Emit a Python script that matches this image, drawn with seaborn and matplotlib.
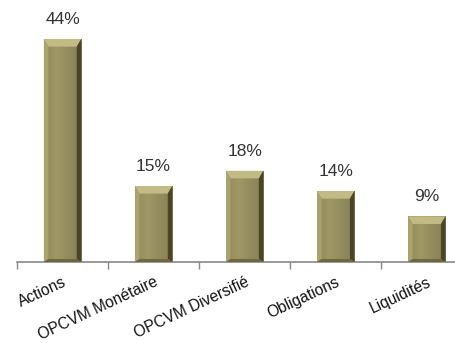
import numpy as np
import pandas as pd
import matplotlib
matplotlib.use("Agg")
import matplotlib.pyplot as plt
from matplotlib.patches import Polygon
import seaborn as sns

sns.set_style("white")
plt.rcParams['font.family'] = ['Liberation Sans Narrow', 'Liberation Sans', 'DejaVu Sans']

categories = ['Actions', 'OPCVM Monétaire', 'OPCVM Diversifié', 'Obligations', 'Liquidités']
values = [44, 15, 18, 14, 9]
labels = ['44%', '15%', '18%', '14%', '9%']

df = pd.DataFrame({'cat': categories, 'val': values})

fig = plt.figure(figsize=(4.55, 3.43), dpi=100)
ax = fig.add_axes([17 / 455, 81 / 343, 1 - 17 / 455, 262 / 343])

sns.barplot(data=df, x='cat', y='val', color='#9a9262', width=0.41,
            saturation=1, ax=ax, edgecolor='#ecebd8', linewidth=0.6)

# shaded bevel on each bar, built from the bar patches
n = 64
t = np.linspace(0, 1, n)
shade = 1.02 - 0.25 * np.abs(t - 0.35)
img = np.zeros((1, n, 3))
base = np.array([0x9c, 0x94, 0x63]) / 255
for i in range(n):
    img[0, i] = np.clip(base * shade[i], 0, 1)
for p in ax.patches:
    x0, y0 = p.get_x(), p.get_y()
    w, h = p.get_width(), p.get_height()
    im = ax.imshow(img, extent=[x0, x0 + w, y0, y0 + h], aspect='auto', zorder=2)
    im.set_clip_path(p)
    bx = w * 0.12
    by = 1.5
    top = Polygon([[x0, y0 + h], [x0 + w, y0 + h], [x0 + w - bx, y0 + h - by], [x0 + bx, y0 + h - by]],
                  closed=True, facecolor='#c2bb85', edgecolor='none', zorder=3)
    ax.add_patch(top)
    left = Polygon([[x0, y0 + h], [x0 + bx, y0 + h - by], [x0 + bx, y0 + by * 0.4], [x0, y0]],
                   closed=True, facecolor='#aaa26f', edgecolor='none', zorder=3)
    ax.add_patch(left)
    right = Polygon([[x0 + w, y0 + h], [x0 + w - bx, y0 + h - by], [x0 + w - bx, y0 + by * 0.4], [x0 + w, y0]],
                    closed=True, facecolor='#4a4527', edgecolor='none', zorder=3)
    ax.add_patch(right)
    bottom = Polygon([[x0, y0], [x0 + w, y0], [x0 + w - bx, y0 + by * 0.4], [x0 + bx, y0 + by * 0.4]],
                     closed=True, facecolor='#6e6840', edgecolor='none', zorder=3)
    ax.add_patch(bottom)

for i, (v, t) in enumerate(zip(values, labels)):
    ax.text(i, v + 2.4, t, ha='center', va='bottom', fontsize=12.5, color='#333333')

ax.set_xlim(-0.5, 4.31)
ax.set_ylim(0, 51.7)
ax.set_xlabel('')
ax.set_ylabel('')
ax.set_yticks([])
ax.set_xticks(np.arange(-0.5, 4.0, 1.0), minor=False)
ax.set_xticklabels([])
ax.set_xticks(range(len(categories)), minor=True)
ax.set_xticklabels(categories, minor=True, rotation=25, ha='right', rotation_mode='anchor',
                   fontsize=11.2, color='#111111')
ax.tick_params(axis='x', which='major', length=5, color='#888888', width=1, direction='out', bottom=True)
ax.tick_params(axis='x', which='minor', length=0, pad=9)
for s in ['top', 'right', 'left']:
    ax.spines[s].set_visible(False)
ax.spines['bottom'].set_color('#888888')
ax.spines['bottom'].set_linewidth(1.2)

fig.savefig('out.png', dpi=100)
